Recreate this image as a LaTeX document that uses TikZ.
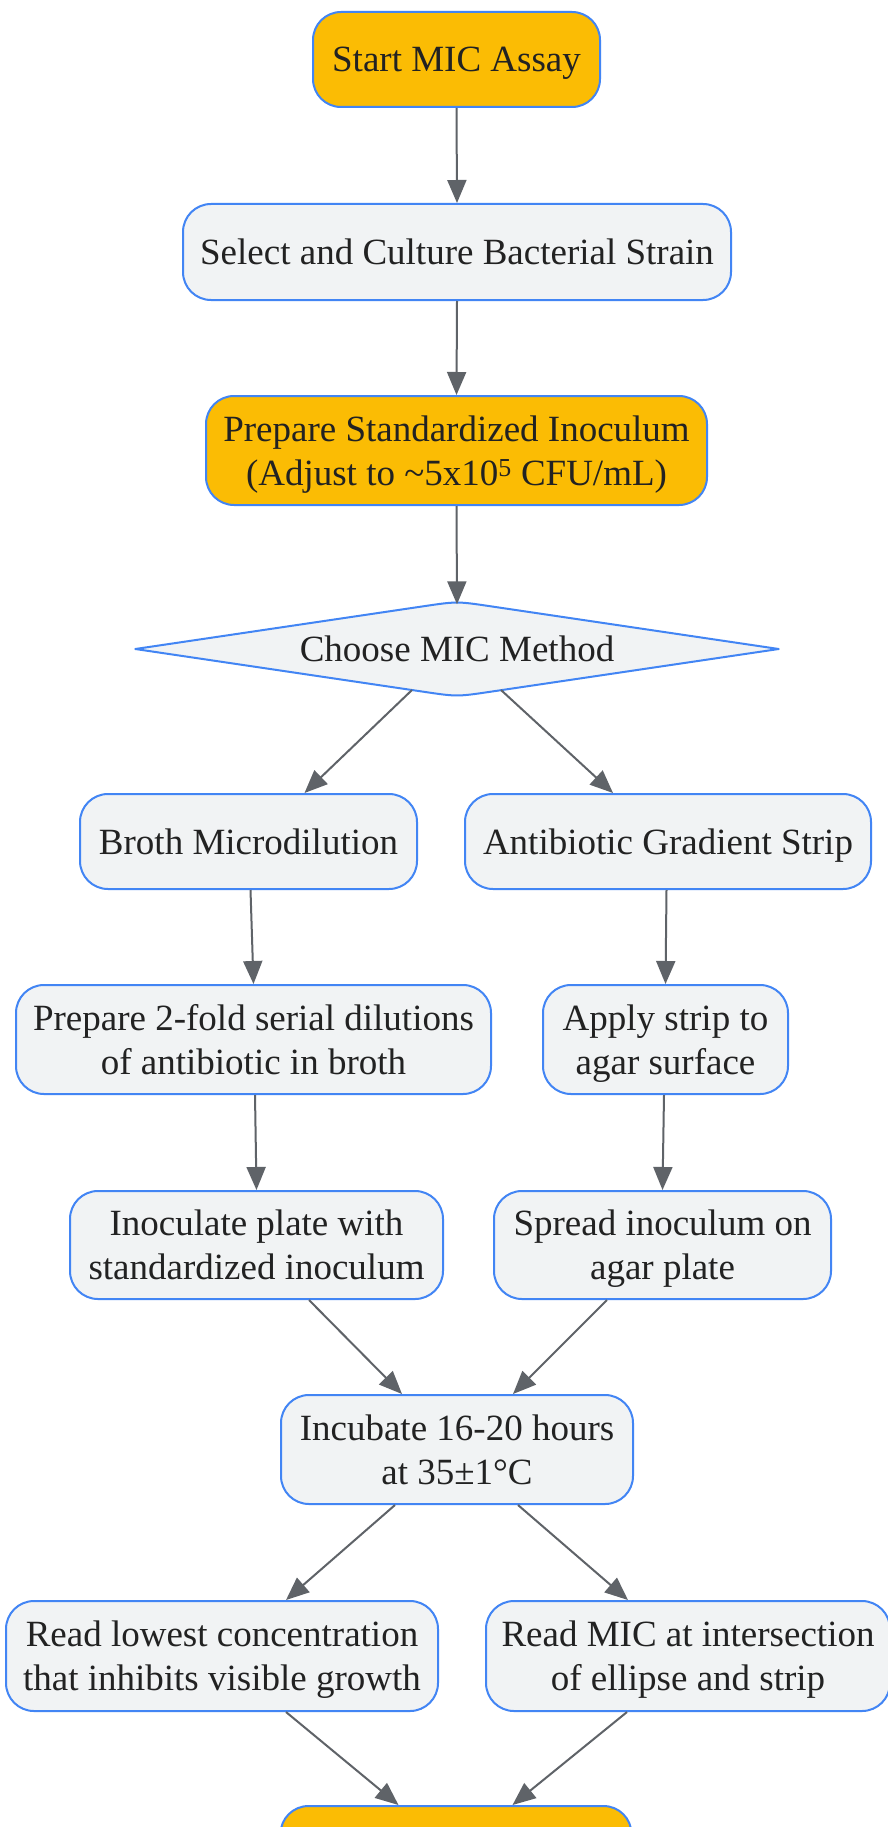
\documentclass[tikz,border=0pt]{standalone}
\usepackage{fontspec}
\setmainfont{Liberation Serif}
\usetikzlibrary{arrows.meta,calc}
\definecolor{nodefill}{HTML}{F1F3F4}
\definecolor{nodeline}{HTML}{4285F4}
\definecolor{orangefill}{HTML}{FBBC04}
\definecolor{edgecol}{HTML}{5F6368}
\definecolor{txt}{HTML}{222222}
\tikzset{
  box/.style={draw=nodeline, line width=2pt, fill=nodefill, rounded corners=28pt,
    inner sep=0pt, align=center, text=txt, text depth=0pt, font=\fontsize{37}{44}\selectfont},
  orangebox/.style={box, fill=orangefill},
  decisiontext/.style={inner sep=0pt, align=center, text=txt, text depth=0pt, font=\fontsize{37}{44}\selectfont},
  decisionshape/.style={draw=nodeline, line width=2pt, fill=nodefill, line join=round},
  flow/.style={draw=edgecol, line width=2pt, -{Triangle[length=23pt,width=19pt]}}
}
\begin{document}
\begin{tikzpicture}[x=1pt,y=-1pt]
\clip (0,0) rectangle (888,1827);
\fill[white] (0,0) rectangle (888,1827);

\node[orangebox, minimum width=287pt, minimum height=95pt] (start) at (456.5,59.5) {Start MIC Assay};
\node[box, minimum width=548pt, minimum height=96pt] (select) at (457,252) {Select and Culture Bacterial Strain};
\node[orangebox, minimum width=501pt, minimum height=109pt] (prep) at (456.5,450.5) {Prepare Standardized Inoculum\\(Adjust to \textasciitilde5x10\textsuperscript{5} CFU/mL)};
\node[decisiontext, minimum width=643pt, minimum height=95pt] (dia) at (457,649) {};
\draw[decisionshape] (dia.west)
  -- ($(dia.north)!34pt!(dia.west)$) .. controls (dia.north) .. ($(dia.north)!34pt!(dia.east)$)
  -- (dia.east)
  -- ($(dia.south)!34pt!(dia.east)$) .. controls (dia.south) .. ($(dia.south)!34pt!(dia.west)$)
  -- cycle;
\node[decisiontext] at (dia.center) {Choose MIC Method};
\node[box, minimum width=337pt, minimum height=95pt] (broth) at (248.5,841.5) {Broth Microdilution};
\node[box, minimum width=406pt, minimum height=95pt] (strip) at (668,841.5) {Antibiotic Gradient Strip};
\node[box, minimum width=475pt, minimum height=109pt] (dil) at (253.5,1039.5) {Prepare 2-fold serial dilutions\\of antibiotic in broth};
\node[box, minimum width=245pt, minimum height=109pt] (apply) at (665.5,1039.5) {Apply strip to\\agar surface};
\node[box, minimum width=373pt, minimum height=108pt] (inoc) at (256.5,1245) {Inoculate plate with\\standardized inoculum};
\node[box, minimum width=337pt, minimum height=108pt] (spread) at (662.5,1245) {Spread inoculum on\\agar plate};
\node[box, minimum width=352pt, minimum height=109pt] (incub) at (457,1449.5) {Incubate 16-20 hours\\at 35±1°C};
\node[box, minimum width=432pt, minimum height=110pt] (readlow) at (222,1656) {Read lowest concentration\\that inhibits visible growth};
\node[box, minimum width=404pt, minimum height=110pt] (readmic) at (688,1656) {Read MIC at intersection\\of ellipse and strip};
\node[orangebox, minimum width=351pt, minimum height=95pt] (final) at (456,1853.5) {};

\draw[flow] (start.south) -- (select.north);
\draw[flow] (select.south) -- (prep.north);
\draw[flow] (prep.south) -- ([yshift=-3pt]dia.north);
\draw[flow] ($(dia.center)+(-45,41)$) -- ($(broth.north)+(56,0)$);
\draw[flow] ($(dia.center)+(44,41)$) -- ($(strip.north)+(-55,0)$);
\draw[flow] ($(broth.south)+(2,0)$) -- (dil.north);
\draw[flow] ($(strip.south)+(-1.5,0)$) -- (apply.north);
\draw[flow] ($(dil.south)+(1.5,0)$) -- (inoc.north);
\draw[flow] ($(apply.south)+(-1.5,0)$) -- (spread.north);
\draw[flow] ($(inoc.south)+(52.5,0)$) -- ($(incub.north)+(-55,0)$);
\draw[flow] ($(spread.south)+(-55.5,0)$) -- ($(incub.north)+(56,0)$);
\draw[flow] ($(incub.south)+(-62,0)$) -- ($(readlow.north)+(64,0)$);
\draw[flow] ($(incub.south)+(61,0)$) -- ($(readmic.north)+(-60,0)$);
\draw[flow] ($(readlow.south)+(64,0)$) -- ($(final.north)+(-57.5,0)$);
\draw[flow] ($(readmic.south)+(-61,0)$) -- ($(final.north)+(56.5,0)$);
\end{tikzpicture}
\end{document}
